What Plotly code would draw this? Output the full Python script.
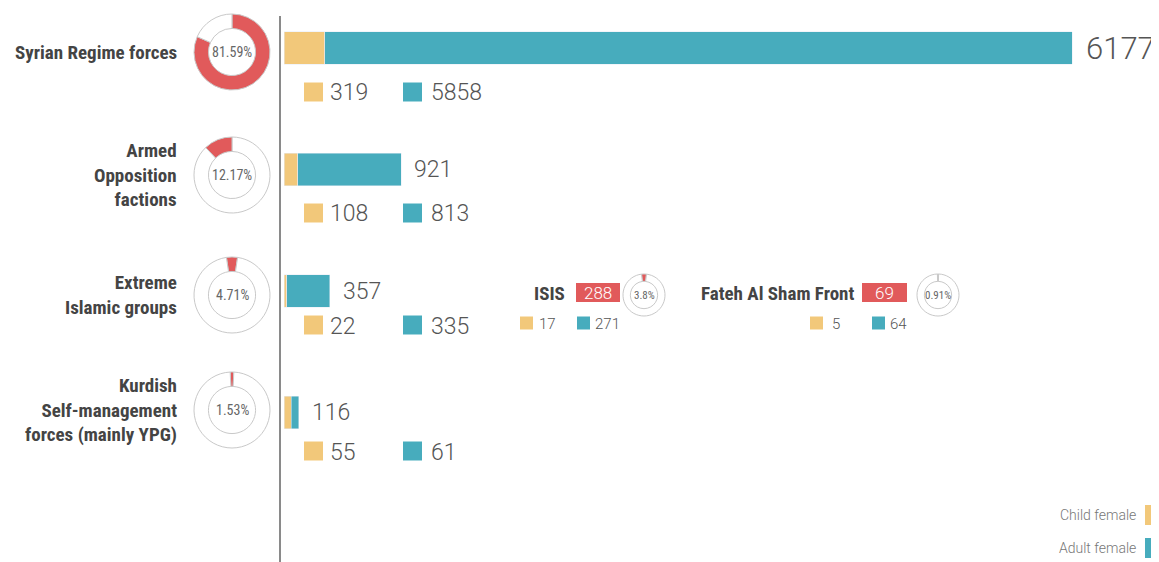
import plotly.graph_objects as go

# ---------------- data ----------------
groups = ["Syrian Regime forces", "Armed<br>Opposition<br>factions",
          "Extreme<br>Islamic groups", "Kurdish<br>Self-management<br>forces (mainly YPG)"]
child_female = [319, 108, 22, 55]
adult_female = [5858, 813, 335, 61]
share_pct = [81.59, 12.17, 4.71, 1.53]

sub_groups = ["ISIS", "Fateh Al Sham Front"]
sub_child = [17, 5]
sub_adult = [271, 64]
sub_pct = [3.8, 0.91]

legend_labels = ["Child female", "Adult female"]

# ---------------- style ----------------
WIN_W, WIN_H = 1159, 562
OFF = 8  # default page body margin
W, H = WIN_W - OFF, WIN_H - OFF
YELLOW = "#F2C87A"
TEAL = "#47ACBD"
RED = "#E15A5B"
TXT = "#555555"
LBL = "#444444"
NARROW = "Liberation Sans Narrow, Arial Narrow, Roboto Condensed, sans-serif"
NUM = "Roboto, Liberation Sans, Arial, sans-serif"


def px(x):
    """window pixel x -> paper fraction"""
    return (x - OFF) / W


def py(y):
    """window pixel y -> paper fraction"""
    return 1 - (y - OFF) / H


totals = [c + a for c, a in zip(child_female, adult_female)]
sub_totals = [c + a for c, a in zip(sub_child, sub_adult)]
cats = [g.replace("<br>", " ") for g in groups]

fig = go.Figure()
fig.add_trace(go.Bar(y=cats, x=child_female, orientation="h", marker_color=YELLOW,
                     width=0.27, name=legend_labels[0], hoverinfo="skip", showlegend=False))
fig.add_trace(go.Bar(y=cats, x=adult_female, orientation="h", marker_color=TEAL,
                     width=0.27, name=legend_labels[1], hoverinfo="skip", showlegend=False))

# x axis: 0 at window px 284, max total maps to window px 1072
x0_px, xmax_px = 284, 1072
scale = (xmax_px - x0_px) / max(totals)
x_range_max = (WIN_W - x0_px) / scale

# y axis: row 0 centre at window px 49, ~121.5 px per row
ppu = 121.5
y_top = -(48 - OFF) / ppu
y_bot = 3 + (WIN_H - (48 + 3 * ppu)) / ppu

annotations = []
shapes = []

# total labels
for i, (c, t) in enumerate(zip(cats, totals)):
    big = i == 0
    annotations.append(dict(x=t, y=c, xref="x", yref="y", text=str(t), showarrow=False,
                            xanchor="left", yanchor="middle", xshift=12 if big else 11,
                            font=dict(family=NUM, size=31 if big else 23, color=TXT, weight=300)))

# donuts for main groups
donut_cy = [52, 175, 295, 410]
# slice placement: "start" = red begins at 12 o'clock, "end" = red ends at 12, "center" = centred on 12
red_place = ["start", "end", "center", "center"]
R = 38


def donut_spec(p, place):
    if place == "end":
        return [100 - p, p], ["white", RED], 0
    if place == "center":
        return [p, 100 - p], [RED, "white"], -p * 1.8
    return [p, 100 - p], [RED, "white"], 0


for i, p in enumerate(share_pct):
    cy = donut_cy[i]
    vals, cols, rot = donut_spec(p, red_place[i])
    fig.add_trace(go.Pie(values=vals, marker=dict(colors=cols, line=dict(color="#c9c9c9", width=1)),
                         hole=0.62, sort=False, direction="clockwise", rotation=rot,
                         textinfo="none", hoverinfo="skip", showlegend=False,
                         domain=dict(x=[px(232 - R), px(232 + R)], y=[py(cy + R), py(cy - R)])))
    annotations.append(dict(x=px(232), y=py(cy), xref="paper", yref="paper",
                            text=f"{p:.2f}%", showarrow=False, xanchor="center", yanchor="middle",
                            font=dict(family=NARROW, size=14, color="#666")))
    annotations.append(dict(x=px(179), y=py(cy), xref="paper", yref="paper",
                            text=f"<b>{groups[i]}</b>", showarrow=False, align="right",
                            xanchor="right", yanchor="middle",
                            font=dict(family=NARROW, size=19, color=LBL)))

# sub-labels below bars (colored keys + numbers)
sub_y = [92, 213, 325, 451]
SQ = 19
for i in range(4):
    y = sub_y[i]
    for sx, tx, col, val in [(304, 328, YELLOW, child_female[i]), (403, 429, TEAL, adult_female[i])]:
        shapes.append(dict(type="rect", xref="paper", yref="paper", x0=px(sx), x1=px(sx + SQ),
                           y0=py(y + SQ / 2), y1=py(y - SQ / 2), fillcolor=col, line=dict(width=0)))
        annotations.append(dict(x=px(tx), y=py(y + 1), xref="paper", yref="paper", text=str(val),
                                showarrow=False, xanchor="left", yanchor="middle",
                                font=dict(family=NUM, size=23, color=TXT, weight=300)))

# sub groups (ISIS / Fateh Al Sham Front)
sub_name_right = [567, 856]
sub_box = [(576, 620), (862, 907)]
sub_donut_cx = [644, 938]
sub_keys = [((520, 537), (577, 593)), ((810, 830), (872, 888))]
r_s = 21
for j in range(2):
    annotations.append(dict(x=px(sub_name_right[j]), y=py(293), xref="paper", yref="paper",
                            text=f"<b>{sub_groups[j]}</b>", showarrow=False, xanchor="right",
                            yanchor="middle", font=dict(family=NARROW, size=19, color=LBL)))
    bx0, bx1 = sub_box[j]
    shapes.append(dict(type="rect", xref="paper", yref="paper", x0=px(bx0), x1=px(bx1),
                       y0=py(302), y1=py(283), fillcolor=RED, line=dict(width=0)))
    annotations.append(dict(x=px((bx0 + bx1) / 2), y=py(292.5), xref="paper", yref="paper",
                            text=str(sub_totals[j]), showarrow=False, xanchor="center",
                            yanchor="middle",
                            font=dict(family=NUM, size=17, color="white", weight=300)))
    cx = sub_donut_cx[j]
    p = sub_pct[j]
    vals, cols, rot = donut_spec(p, "center")
    fig.add_trace(go.Pie(values=vals,
                         marker=dict(colors=cols, line=dict(color="#c9c9c9", width=1)),
                         hole=0.65, sort=False, direction="clockwise", rotation=rot,
                         textinfo="none", hoverinfo="skip", showlegend=False,
                         domain=dict(x=[px(cx - r_s), px(cx + r_s)], y=[py(295 + r_s), py(295 - r_s)])))
    annotations.append(dict(x=px(cx), y=py(295), xref="paper", yref="paper",
                            text=f"{p:g}%", showarrow=False, xanchor="center", yanchor="middle",
                            font=dict(family=NARROW, size=11, color="#666")))
    for (sx, tx), col, val in zip(sub_keys[j], [YELLOW, TEAL], [sub_child[j], sub_adult[j]]):
        shapes.append(dict(type="rect", xref="paper", yref="paper", x0=px(sx), x1=px(sx + 13),
                           y0=py(329.5), y1=py(316.5), fillcolor=col, line=dict(width=0)))
        annotations.append(dict(x=px(tx), y=py(323.5), xref="paper", yref="paper", text=str(val),
                                showarrow=False, xanchor="left", yanchor="middle",
                                font=dict(family=NUM, size=15, color=TXT, weight=300)))

# legend (bottom right)
for lab, col, y in zip(legend_labels, [YELLOW, TEAL], [515, 548]):
    annotations.append(dict(x=px(1138), y=py(y), xref="paper", yref="paper", text=lab,
                            showarrow=False, xanchor="right", yanchor="middle",
                            font=dict(family=NUM, size=14, color="#777", weight=300)))
    shapes.append(dict(type="rect", xref="paper", yref="paper", x0=px(1145), x1=px(1162),
                       y0=py(y + 10), y1=py(y - 10), fillcolor=col, line=dict(width=0)))

# vertical axis line
shapes.append(dict(type="line", xref="paper", yref="paper", x0=px(280), x1=px(280),
                   y0=0, y1=py(16), line=dict(color="#8a8a8a", width=2)))

fig.update_layout(
    width=W, height=H, margin=dict(l=0, r=0, t=0, b=0),
    paper_bgcolor="white", plot_bgcolor="white", barmode="stack",
    xaxis=dict(domain=[px(x0_px), 1], range=[0, x_range_max], visible=False, fixedrange=True),
    yaxis=dict(range=[y_bot, y_top], visible=False, categoryorder="array", categoryarray=cats),
    annotations=annotations, shapes=shapes,
)

fig.write_html("out.html")
